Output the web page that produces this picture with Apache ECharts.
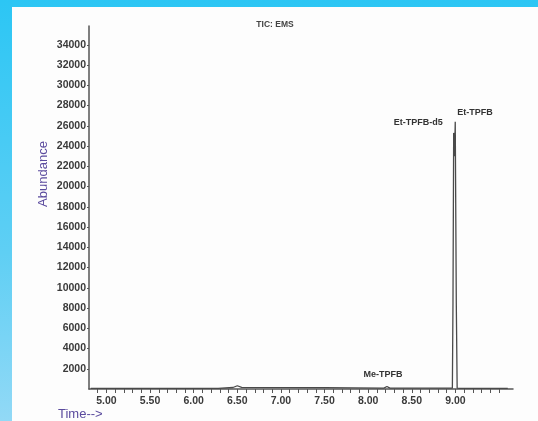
<!DOCTYPE html>
<html>
<head>
<meta charset="utf-8">
<script src="https://cdn.jsdelivr.net/npm/echarts@6/dist/echarts.min.js"></script>
<style>
  html, body { margin: 0; padding: 0; }
  body {
    width: 538px; height: 421px; overflow: hidden; position: relative;
    background: linear-gradient(180deg, #2cc6f4 0%, #5fcff4 60%, #92d9f6 100%);
  }
  #tic-chart {
    position: absolute; left: 12px; top: 7px;
    width: 526px; height: 414px; background: #fdfdfd;
  }
</style>
</head>
<body>
<div id="tic-chart"></div>
<script>
// retention time (min) and abundance
const times = [4.82, 6.28, 6.45, 6.5, 6.55, 7.5, 7.52, 8.18, 8.215, 8.25,
  8.94, 8.965, 8.972, 8.98, 8.99, 8.998, 9.01, 9.02, 9.05, 9.6];
const abundance = [60, 70, 150, 320, 160, 140, 80, 90, 250, 90,
  80, 80, 8500, 25300, 23000, 26400, 8500, 80, 70, 60];

// named peaks (retention time -> label)
const peakTimes = [8.215, 8.98, 8.998];
const peakNames = ["Me-TPFB", "Et-TPFB-d5", "Et-TPFB"];

const xLabelValues = [5, 5.5, 6, 6.5, 7, 7.5, 8, 8.5, 9];
const xTickValues = [4.9, 5, 5.1, 5.2, 5.3, 5.4, 5.5, 5.6, 5.7, 5.8, 5.9,
  6, 6.1, 6.2, 6.3, 6.4, 6.5, 6.6, 6.7, 6.8, 6.9, 7, 7.1, 7.2, 7.3, 7.4,
  7.5, 7.6, 7.7, 7.8, 7.9, 8, 8.1, 8.2, 8.3, 8.4, 8.5, 8.6, 8.7, 8.8, 8.9,
  9, 9.1, 9.2, 9.3, 9.4, 9.5];

const chart = echarts.init(document.getElementById("tic-chart"));

const labelStyles = {
  "Me-TPFB": { position: "top", offset: [-4, -2] },
  "Et-TPFB-d5": { position: "left", distance: 11, offset: [0, -10] },
  "Et-TPFB": { position: "right", distance: 2, offset: [0, -9] },
};

const seriesData = times.map((t, i) => {
  const k = peakTimes.indexOf(t);
  if (k < 0) return [t, abundance[i]];
  const name = peakNames[k];
  return {
    value: [t, abundance[i]],
    label: Object.assign({
      show: true,
      formatter: name,
      color: "#333",
      fontSize: 9,
      fontWeight: "bold",
      fontFamily: "Liberation Sans",
    }, labelStyles[name]),
  };
});

const tickText = {
  color: "#3a3a3a", fontSize: 10.5, fontWeight: "bold", fontFamily: "Liberation Sans",
};

chart.setOption({
  animation: false,
  title: {
    text: "TIC: EMS",
    left: "center",
    top: 8,
    textStyle: { color: "#444", fontSize: 8.5, fontWeight: "bold", fontFamily: "Liberation Sans" },
  },
  grid: { left: 77, right: 25, top: 19, bottom: 32 },
  xAxis: {
    type: "value",
    min: 4.8,
    max: 9.66,
    axisLine: { lineStyle: { color: "#555", width: 1.5 } },
    axisTick: {
      customValues: xTickValues,
      length: 4,
      lineStyle: { color: "#555", width: 1 },
    },
    axisLabel: Object.assign({
      customValues: xLabelValues,
      margin: 7,
      formatter: (v) => v.toFixed(2),
    }, tickText),
    splitLine: { show: false },
  },
  yAxis: {
    type: "value",
    min: 0,
    max: 35860,
    interval: 2000,
    axisLine: { show: true, lineStyle: { color: "#555", width: 1.5 } },
    axisTick: { show: true, length: 2, lineStyle: { color: "#555" } },
    axisLabel: Object.assign({
      showMinLabel: false,
      showMaxLabel: false,
      margin: 3,
      formatter: (v) => (v === 0 || v % 2000 !== 0 ? "" : String(v)),
    }, tickText),
    splitLine: { show: false },
  },
  graphic: [
    {
      type: "text",
      x: 31,
      y: 167,
      rotation: Math.PI / 2,
      style: {
        text: "Abundance",
        fill: "#5b4b9e",
        font: "13px 'Liberation Sans'",
        align: "center",
        verticalAlign: "middle",
      },
    },
    {
      type: "text",
      left: 46,
      top: 401,
      style: {
        text: "Time-->",
        fill: "#5b4b9e",
        font: "13px 'Liberation Sans'",
      },
    },
  ],
  series: [
    {
      type: "line",
      data: seriesData,
      symbol: "circle",
      symbolSize: 0,
      showAllSymbol: true,
      lineStyle: { color: "#4a4a4a", width: 1.3 },
      itemStyle: { color: "#4a4a4a" },
    },
  ],
});
</script>
</body>
</html>
